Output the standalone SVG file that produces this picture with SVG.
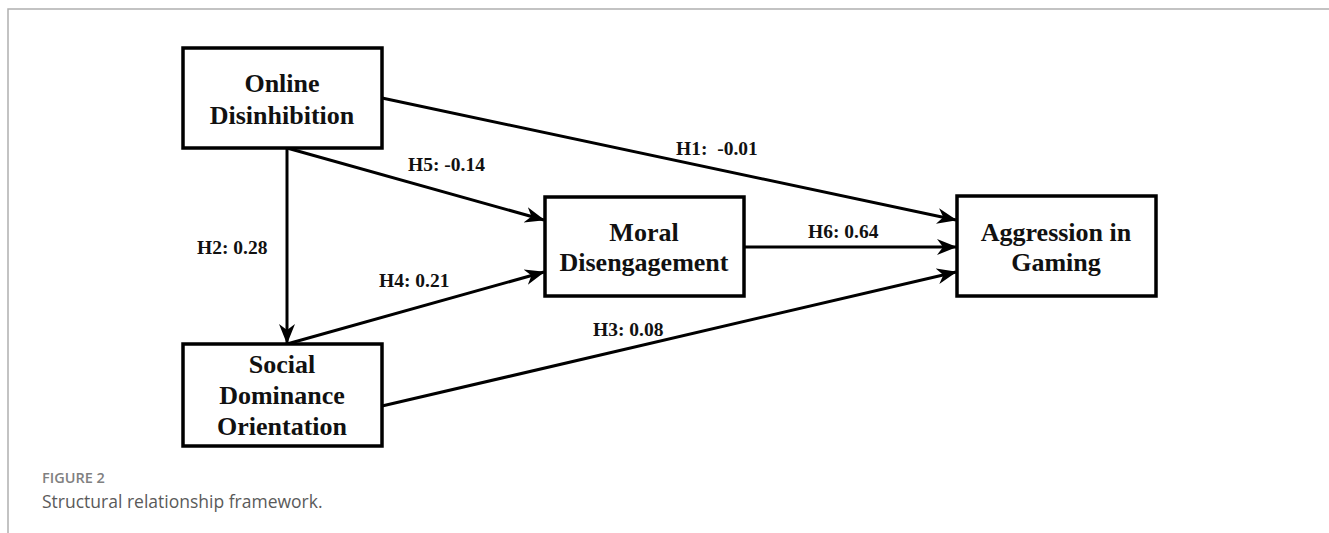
<svg xmlns="http://www.w3.org/2000/svg" width="1329" height="533" viewBox="0 0 1329 533">
<defs>
<style>
.box{fill:#fff;stroke:#000;stroke-width:3.5}
.nt{font-family:"Liberation Serif","Times New Roman",serif;font-weight:bold;font-size:26px;fill:#111;text-anchor:middle}
.lb{font-family:"Liberation Serif","Times New Roman",serif;font-weight:bold;font-size:19.5px;fill:#111}
.ed{stroke:#000;stroke-width:3;fill:none;marker-end:url(#ah)}
</style>
<marker id="ah" markerUnits="userSpaceOnUse" markerWidth="20" markerHeight="18" viewBox="0 0 20 18" refX="19" refY="9" orient="auto">
<path d="M0,1 L20,9 L0,17 L6,9 z" fill="#000"/>
</marker>
</defs>
<rect width="1329" height="533" fill="#fff"/>
<path d="M8,533 V9 H1329" fill="none" stroke="#b0b0b0" stroke-width="1.5"/>
<g id="connectors">
<line class="ed" x1="382" y1="98" x2="956" y2="220"/>
<line class="ed" x1="744" y1="247" x2="956" y2="247"/>
<line class="ed" x1="382" y1="406" x2="956" y2="272"/>
<line class="ed" x1="287" y1="148" x2="544" y2="220"/>
<line class="ed" x1="287" y1="344" x2="544" y2="272"/>
<line class="ed" x1="287" y1="148" x2="287" y2="343"/>
<text class="lb" x="676" y="155" xml:space="preserve">H1:  -0.01</text>
<text class="lb" x="408" y="171">H5: -0.14</text>
<text class="lb" x="197" y="254">H2: 0.28</text>
<text class="lb" x="379" y="287">H4: 0.21</text>
<text class="lb" x="808" y="238">H6: 0.64</text>
<text class="lb" x="593" y="336">H3: 0.08</text>
</g>
<g id="online">
<rect class="box" x="183" y="48" width="199" height="100"/>
<text class="nt" x="282" y="92">Online</text>
<text class="nt" x="282" y="124">Disinhibition</text>
</g>
<g id="sdo">
<rect class="box" x="183" y="344" width="199" height="102"/>
<text class="nt" x="282" y="373">Social</text>
<text class="nt" x="282" y="404">Dominance</text>
<text class="nt" x="282" y="435">Orientation</text>
</g>
<g id="moral">
<rect class="box" x="545" y="197" width="199" height="99"/>
<text class="nt" x="644" y="241">Moral</text>
<text class="nt" x="644" y="271">Disengagement</text>
</g>
<g id="aggression">
<rect class="box" x="957" y="196" width="199" height="100"/>
<text class="nt" x="1056" y="241">Aggression in</text>
<text class="nt" x="1056" y="271">Gaming</text>
</g>
<g id="caption">
<text x="42" y="483" font-family="'Open Sans','Noto Sans',sans-serif" font-weight="600" font-size="14.5px" fill="#808080">FIGURE 2</text>
<text x="42" y="508" font-family="'Open Sans','Noto Sans',sans-serif" font-size="17.5px" fill="#5a5a5a">Structural relationship framework.</text>
</g>
</svg>
